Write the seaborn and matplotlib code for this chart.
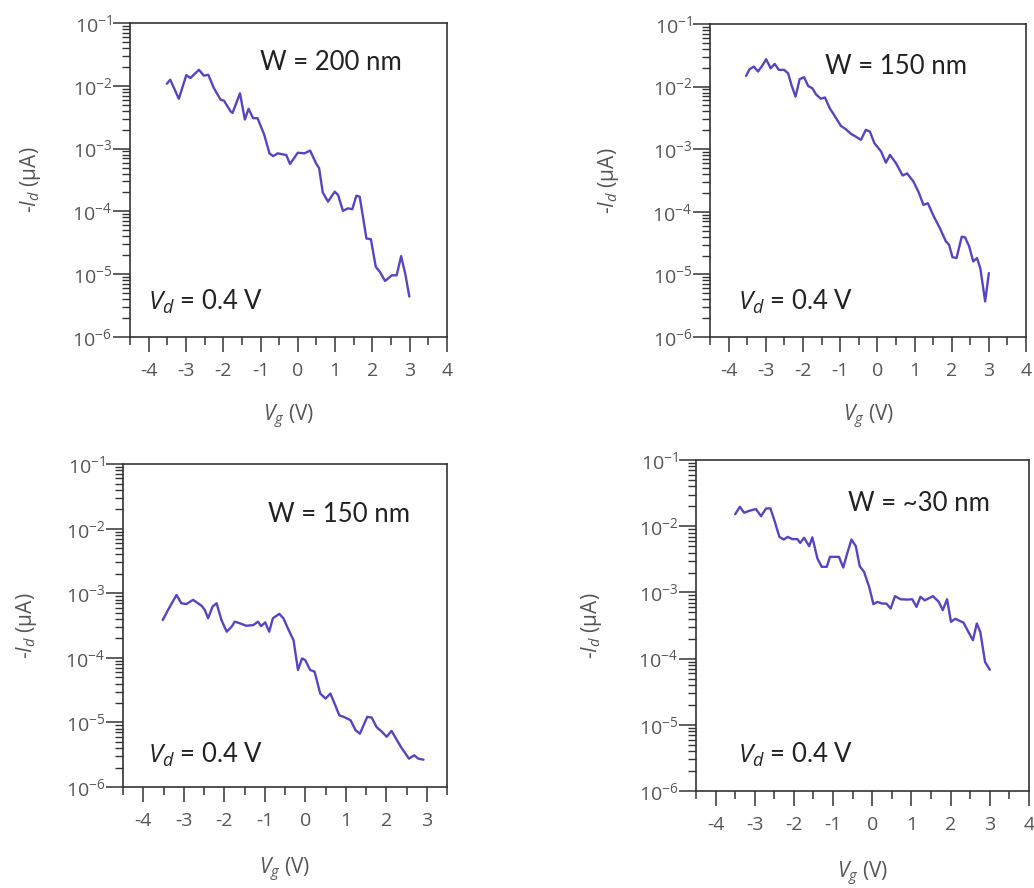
import matplotlib
matplotlib.use("Agg")
import matplotlib.pyplot as plt
import matplotlib.ticker as mticker
import seaborn as sns

# ---- data (Vg in V, -Id in uA) ----
vg_w200 = [-3.51, -3.42, -3.19, -2.99, -2.88, -2.65, -2.52, -2.40, -2.25, -2.07,
           -1.98, -1.80, -1.75, -1.55, -1.42, -1.32, -1.20, -1.08, -0.90, -0.76,
           -0.66, -0.54, -0.31, -0.21, 0.00, 0.18, 0.33, 0.49, 0.57, 0.67,
           0.81, 0.99, 1.08, 1.21, 1.35, 1.46, 1.57, 1.66, 1.84, 1.96,
           2.09, 2.20, 2.34, 2.52, 2.65, 2.77, 2.88, 2.99]
id_w200 = [1.08e-2, 1.25e-2, 6.2e-3, 1.48e-2, 1.33e-2, 1.80e-2, 1.45e-2, 1.50e-2, 9.2e-3, 6.0e-3,
           5.8e-3, 3.9e-3, 3.7e-3, 7.6e-3, 2.9e-3, 4.3e-3, 3.05e-3, 3.05e-3, 1.66e-3, 8.4e-4,
           7.6e-4, 8.4e-4, 7.9e-4, 5.7e-4, 8.6e-4, 8.4e-4, 9.3e-4, 5.8e-4, 4.9e-4, 2.0e-4,
           1.43e-4, 2.06e-4, 1.82e-4, 1.02e-4, 1.12e-4, 1.08e-4, 1.78e-4, 1.71e-4, 3.7e-5, 3.6e-5,
           1.31e-5, 1.09e-5, 7.8e-6, 9.6e-6, 9.6e-6, 1.94e-5, 1.02e-5, 4.4e-6]

vg_w150a = [-3.53, -3.44, -3.32, -3.21, -3.10, -2.99, -2.87, -2.76, -2.65, -2.51,
            -2.40, -2.31, -2.20, -2.09, -1.97, -1.86, -1.75, -1.64, -1.52, -1.41,
            -1.28, -1.16, -0.98, -0.85, -0.71, -0.58, -0.44, -0.31, -0.20, -0.08,
            0.10, 0.23, 0.34, 0.50, 0.68, 0.80, 0.97, 1.12, 1.24, 1.36,
            1.50, 1.68, 1.84, 1.93, 2.02, 2.13, 2.27, 2.36, 2.47, 2.58,
            2.68, 2.77, 2.90, 3.00]
id_w150a = [1.48e-2, 1.89e-2, 2.09e-2, 1.74e-2, 2.14e-2, 2.73e-2, 1.96e-2, 2.30e-2, 1.85e-2, 1.85e-2,
            1.63e-2, 1.06e-2, 6.9e-3, 1.31e-2, 1.41e-2, 1.02e-2, 9.4e-3, 7.4e-3, 6.4e-3, 6.7e-3,
            4.5e-3, 3.5e-3, 2.35e-3, 2.09e-3, 1.76e-3, 1.59e-3, 1.41e-3, 2.04e-3, 1.91e-3, 1.25e-3,
            9.2e-4, 6.1e-4, 8.1e-4, 6.0e-4, 3.8e-4, 4.1e-4, 3.05e-4, 2.0e-4, 1.29e-4, 1.37e-4,
            8.9e-5, 5.5e-5, 3.4e-5, 2.97e-5, 1.89e-5, 1.82e-5, 4.0e-5, 3.9e-5, 2.8e-5, 1.61e-5,
            1.82e-5, 1.26e-5, 3.7e-6, 1.05e-5]

vg_w150b = [-3.52, -3.39, -3.18, -3.06, -2.94, -2.77, -2.56, -2.48, -2.40, -2.29,
            -2.19, -2.07, -1.94, -1.82, -1.74, -1.61, -1.46, -1.28, -1.17, -1.09,
            -0.99, -0.89, -0.80, -0.64, -0.54, -0.41, -0.29, -0.18, -0.08, 0.00,
            0.12, 0.23, 0.37, 0.50, 0.62, 0.74, 0.84, 0.95, 1.12, 1.24,
            1.35, 1.53, 1.64, 1.76, 1.90, 2.01, 2.13, 2.36, 2.56, 2.69,
            2.79, 2.92]
id_w150b = [3.85e-4, 5.5e-4, 9.4e-4, 7.0e-4, 6.8e-4, 7.9e-4, 6.4e-4, 5.5e-4, 4.1e-4, 6.2e-4,
            7.0e-4, 3.85e-4, 2.54e-4, 3.03e-4, 3.63e-4, 3.42e-4, 3.14e-4, 3.22e-4, 3.63e-4, 3.10e-4,
            3.54e-4, 2.54e-4, 4.1e-4, 4.8e-4, 4.1e-4, 2.69e-4, 1.88e-4, 6.5e-5, 9.8e-5, 9.2e-5,
            6.5e-5, 6.1e-5, 2.8e-5, 2.34e-5, 2.8e-5, 1.85e-5, 1.29e-5, 1.22e-5, 1.08e-5, 7.6e-6,
            6.7e-6, 1.22e-5, 1.19e-5, 8.5e-6, 7.1e-6, 6.0e-6, 7.4e-6, 4.2e-6, 2.75e-6, 3.1e-6,
            2.75e-6, 2.65e-6]

vg_w30 = [-3.50, -3.38, -3.27, -3.14, -2.97, -2.84, -2.71, -2.60, -2.50, -2.37,
          -2.26, -2.16, -2.04, -1.91, -1.84, -1.74, -1.61, -1.53, -1.40, -1.29,
          -1.16, -1.08, -0.85, -0.74, -0.64, -0.53, -0.42, -0.32, -0.21, -0.08,
          0.03, 0.13, 0.25, 0.36, 0.47, 0.58, 0.72, 0.89, 1.02, 1.13,
          1.23, 1.34, 1.55, 1.70, 1.80, 1.91, 2.01, 2.12, 2.33, 2.46,
          2.57, 2.67, 2.76, 2.88, 3.00]
id_w30 = [1.52e-2, 1.97e-2, 1.60e-2, 1.71e-2, 1.82e-2, 1.42e-2, 1.86e-2, 1.86e-2, 1.24e-2, 6.9e-3,
          6.3e-3, 6.9e-3, 6.4e-3, 6.4e-3, 5.6e-3, 6.7e-3, 5.0e-3, 6.8e-3, 3.26e-3, 2.44e-3,
          2.44e-3, 3.45e-3, 3.45e-3, 2.38e-3, 3.88e-3, 6.3e-3, 5.0e-3, 2.49e-3, 2.05e-3, 1.22e-3,
          6.65e-4, 7.2e-4, 6.8e-4, 6.8e-4, 5.7e-4, 8.8e-4, 7.9e-4, 7.8e-4, 7.9e-4, 6.05e-4,
          8.6e-4, 7.6e-4, 8.8e-4, 7.2e-4, 5.4e-4, 7.9e-4, 3.6e-4, 4.0e-4, 3.5e-4, 2.5e-4,
          1.9e-4, 3.4e-4, 2.5e-4, 8.9e-5, 6.8e-5]

width_labels = ["W = 200 nm", "W = 150 nm", "W = 150 nm", "W = ~30 nm"]
vd_label = r"$V_d$ = 0.4 V"

sns.set_style("ticks")
plt.rcParams["font.family"] = ["Open Sans", "DejaVu Sans"]
plt.rcParams["mathtext.fontset"] = "custom"
plt.rcParams["mathtext.rm"] = "Open Sans"
plt.rcParams["mathtext.it"] = "Open Sans:italic"
plt.rcParams["mathtext.fallback"] = "stixsans"

line_col = "#5a43c2"
axis_col = "#333333"
tick_txt = "#555555"

fig = plt.figure(figsize=(10.34, 8.88), dpi=100)

# per panel: axes rect, right x limit, data, W text pos, Vd text pos, ylabel x, xlabel y
panels = [
    ([0.1257, 0.6205, 0.3066, 0.3536], 4.0, vg_w200, id_w200, (0.41, 0.873), (0.057, 0.111), -0.274, -0.210),
    ([0.6867, 0.6205, 0.3056, 0.3525], 4.0, vg_w150a, id_w150a, (0.364, 0.863), (0.089, 0.112), -0.282, -0.210),
    ([0.1190, 0.1137, 0.3133, 0.3637], 3.5, vg_w150b, id_w150b, (0.448, 0.845), (0.077, 0.099), -0.259, -0.212),
    ([0.6731, 0.1092, 0.3220, 0.3727], 4.0, vg_w30, id_w30, (0.456, 0.870), (0.126, 0.109), -0.276, -0.208),
]

for i, (rect, xmax, vg, idv, wpos, vpos, ylx, xly) in enumerate(panels):
    ax = fig.add_axes(rect)
    sns.lineplot(x=vg, y=idv, ax=ax, color=line_col, linewidth=1.7,
                 estimator=None, sort=False)
    ax.set_yscale("log")
    ax.set_ylim(1e-6, 1e-1)
    ax.set_xlim(-4.5, xmax)

    ax.xaxis.set_major_locator(mticker.MultipleLocator(1))
    ax.xaxis.set_minor_locator(mticker.MultipleLocator(0.5))
    ax.xaxis.set_major_formatter(mticker.FuncFormatter(lambda v, p: f"{v:.0f}"))
    ax.yaxis.set_major_locator(mticker.LogLocator(base=10, numticks=10))
    ax.yaxis.set_minor_locator(mticker.LogLocator(base=10, subs=range(2, 10), numticks=50))
    ax.yaxis.set_minor_formatter(mticker.NullFormatter())

    for s in ax.spines.values():
        s.set_color(axis_col)
        s.set_linewidth(1.2)

    ax.tick_params(axis="x", which="major", direction="out", length=11, width=1.1,
                   color=axis_col, labelsize=14, labelcolor=tick_txt, pad=7)
    ax.tick_params(axis="x", which="minor", direction="out", length=5.5, width=1.1,
                   color=axis_col)
    ax.tick_params(axis="y", which="major", direction="out", length=12, width=1.1,
                   color=axis_col, labelsize=14, labelcolor=tick_txt, pad=1)
    ax.tick_params(axis="y", which="minor", direction="out", length=5.5, width=1.0,
                   color=axis_col)

    ax.set_xlabel(r"$V_g$ (V)", fontsize=15, color=tick_txt)
    ax.set_ylabel(r"-$I_d$ (μA)", fontsize=15, color=tick_txt)
    ax.yaxis.set_label_coords(ylx, 0.5)
    ax.xaxis.set_label_coords(0.5, xly)

    ax.text(wpos[0], wpos[1], width_labels[i], transform=ax.transAxes,
            fontsize=18.5, family=["Lato", "DejaVu Sans"], color="#222222",
            ha="left", va="center")
    ax.text(vpos[0], vpos[1], vd_label, transform=ax.transAxes,
            fontsize=18.5, family=["Lato", "DejaVu Sans"], color="#222222",
            ha="left", va="center")

fig.savefig("out.png", dpi=100)
